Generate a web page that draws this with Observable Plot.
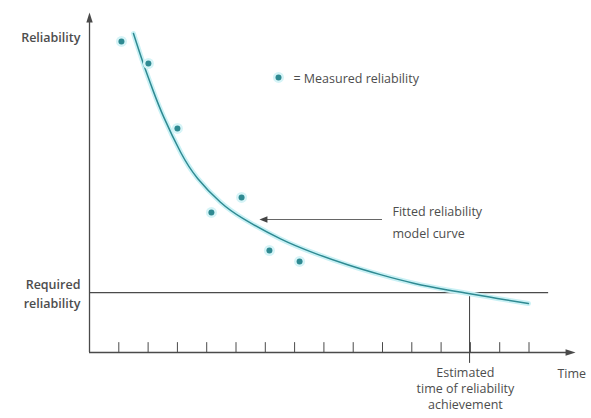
<!DOCTYPE html>
<html><head><meta charset="utf-8">
<script src="https://cdn.jsdelivr.net/npm/d3@7"></script>
<script src="https://cdn.jsdelivr.net/npm/@observablehq/plot@0.6"></script>
<style>
html,body{margin:0;padding:0;background:#fff;}
#chart{width:591px;height:418px;overflow:hidden;}
</style></head>
<body><div id="chart"></div>
<script>
// Measured reliability (time units, reliability units)
const measuredTime = [1.09, 2.01, 3.0, 4.16, 5.19, 6.14, 7.17];
const measuredRel  = [91.5, 85.0, 65.9, 41.2, 45.6, 30.0, 26.8];
// Fitted reliability model curve
const curveTime = [1.5, 1.84, 2.18, 2.53, 3.11, 3.69, 4.47, 5.26, 6.52, 7.65, 8.81, 9.93, 11.06, 12.22, 12.83, 13.92, 14.98];
const curveRel  = [93.8, 84.9, 76.8, 69.3, 58.9, 51.2, 44.2, 39.3, 33.4, 29.3, 25.8, 22.9, 20.4, 18.4, 17.5, 15.9, 14.4];
const timeTicks = [1,2,3,4,5,6,7,8,9,10,11,12,13,14,15];
const requiredRel = 17.6;
const achievementTime = 12.97;
const xAxisEnd = 16.59, yAxisEnd = 100;
const reqLineEnd = 15.67;

const measured = measuredTime.map((t,i)=>({t, r: measuredRel[i]}));
const curve = curveTime.map((t,i)=>({t, r: curveRel[i]}));

const head = {draw(ctx){ctx.moveTo(0,0);ctx.lineTo(-3.2,10);ctx.lineTo(3.2,10);ctx.closePath();}};
const headSmall = {draw(ctx){ctx.moveTo(0,0);ctx.lineTo(-3.2,8);ctx.lineTo(3.2,8);ctx.closePath();}};

const axisCol = "#4a4a4a", textCol = "#4d4d4d", teal = "#2f8a92";
const font = "'Open Sans', sans-serif";

const chart = Plot.plot({
  width: 591, height: 418,
  margin: 0,
  x: {domain: [-3.038, 17.133], axis: null},
  y: {domain: [-19.41, 103.53], axis: null},
  style: {fontFamily: font, background: "#fff"},
  marks: [
    // axes
    Plot.ruleY([0], {x1: 0, x2: xAxisEnd - 0.3, stroke: axisCol, strokeWidth: 1.3}),
    Plot.ruleX([0], {y1: 0, y2: yAxisEnd - 2.5, stroke: axisCol, strokeWidth: 1.3}),
    Plot.dot([{t: xAxisEnd, r: 0}], {x: "t", y: "r", symbol: head, rotate: 90, fill: axisCol, stroke: null, r: 3}),
    Plot.dot([{t: 0, r: yAxisEnd}], {x: "t", y: "r", symbol: head, rotate: 0, fill: axisCol, stroke: null, r: 3}),
    // ticks
    Plot.ruleX(timeTicks, {y1: 0, y2: 2.9, stroke: axisCol, strokeWidth: 1}),
    // required reliability & achievement
    Plot.ruleY([requiredRel], {x1: 0, x2: reqLineEnd, stroke: axisCol, strokeWidth: 1.2}),
    Plot.ruleX([achievementTime], {y1: -3.2, y2: requiredRel, stroke: axisCol, strokeWidth: 1.1}),
    // fitted curve (glow + line)
    Plot.line(curve, {x: "t", y: "r", curve: "natural", stroke: "#c9f1f5", strokeWidth: 5}),
    Plot.line(curve, {x: "t", y: "r", curve: "natural", stroke: teal, strokeWidth: 1.5}),
    // measured dots
    Plot.dot(measured, {x: "t", y: "r", r: 5.5, fill: "#d6f4f7", stroke: null}),
    Plot.dot(measured, {x: "t", y: "r", r: 3, fill: teal, stroke: null}),
    // legend
    Plot.dot([{t: 6.45, r: 80.9}], {x: "t", y: "r", r: 5.5, fill: "#d6f4f7", stroke: null}),
    Plot.dot([{t: 6.45, r: 80.9}], {x: "t", y: "r", r: 3, fill: teal, stroke: null}),
    Plot.text(["= Measured reliability"], {x: 6.96, y: 80.5, textAnchor: "start", fontSize: 12.5, fill: textCol}),
    // annotation arrow
    Plot.ruleY([39.1], {x1: 6.0, x2: 10.0, stroke: "#666", strokeWidth: 1.1}),
    Plot.dot([{t: 5.8, r: 39.1}], {x: "t", y: "r", symbol: headSmall, rotate: -90, fill: "#444", stroke: null, r: 3}),
    Plot.text(["Fitted reliability", "model curve"], {x: 10.34, y: (d,i)=> i===0 ? 41.2 : 35.0, textAnchor: "start", fontSize: 12.5, fill: textCol}),
    // labels
    Plot.text(["Reliability"], {x: -0.31, y: 92.6, textAnchor: "end", fontSize: 12.5, fontWeight: 600, fill: textCol}),
    Plot.text(["Required", "reliability"], {x: -0.31, y: (d,i)=> i===0 ? 20.0 : 14.4, textAnchor: "end", fontSize: 12.5, fontWeight: 600, fill: textCol}),
    Plot.text(["Time"], {x: 15.97, y: -6.2, textAnchor: "start", fontSize: 12.5, fill: textCol}),
    Plot.text(["Estimated", "time of reliability", "achievement"], {x: 12.83, y: (d,i)=> [-5.9, -10.6, -15.3][i], textAnchor: "middle", fontSize: 12.5, fill: textCol})
  ]
});
document.getElementById("chart").appendChild(chart);
</script>
</body></html>
